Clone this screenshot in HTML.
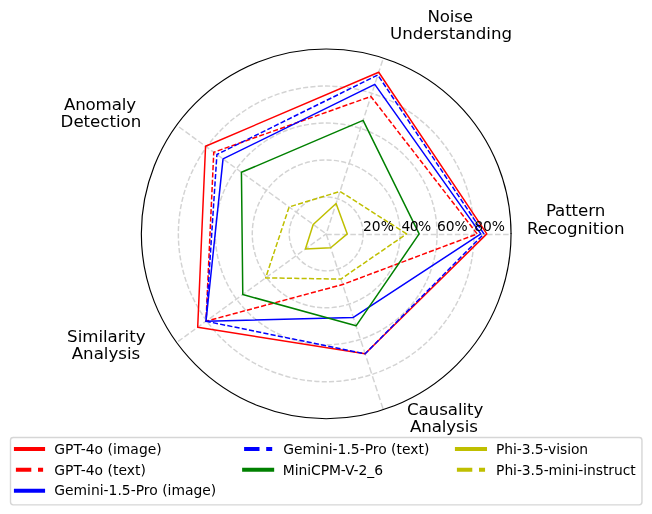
<!DOCTYPE html>
<html><head><meta charset="utf-8"><title>Radar chart</title>
<style>html,body{margin:0;padding:0;background:#fff}svg{display:block}</style></head>
<body>
<svg width="652" height="514" viewBox="0 0 652 514">
<rect width="652" height="514" fill="#fff"/>
<g fill="none" stroke="#d3d3d3" stroke-width="1.45">
<line x1="326.2" y1="234.5" x2="511.00" y2="234.50" stroke-dasharray="5.55 2.49" stroke-dashoffset="0.00"/>
<line x1="326.2" y1="233.9" x2="383.31" y2="58.14" stroke-dasharray="5.99 2.69" stroke-dashoffset="5.58"/>
<line x1="326.2" y1="233.9" x2="176.69" y2="125.28" stroke-dasharray="5.47 2.46" stroke-dashoffset="6.03"/>
<line x1="326.2" y1="233.9" x2="176.69" y2="342.52" stroke-dasharray="5.38 2.41" stroke-dashoffset="1.59"/>
<line x1="326.2" y1="233.9" x2="383.31" y2="409.66" stroke-dasharray="6.45 2.90" stroke-dashoffset="0.00"/>
<circle cx="0" cy="0" r="36.96" transform="translate(326.2 233.9) scale(1 -1)" stroke-dasharray="5.14 2.22"/>
<circle cx="0" cy="0" r="73.92" transform="translate(326.2 233.9) scale(1 -1)" stroke-dasharray="5.14 2.22"/>
<circle cx="0" cy="0" r="110.88" transform="translate(326.2 233.9) scale(1 -1)" stroke-dasharray="5.14 2.22"/>
<circle cx="0" cy="0" r="147.84" transform="translate(326.2 233.9) scale(1 -1)" stroke-dasharray="5.14 2.22"/>
</g>
<polygon points="486.79,233.90 378.71,72.29 205.55,146.24 197.70,327.26 365.15,353.77" fill="none" stroke="#ff0000" stroke-width="1.5" stroke-linejoin="round"/>
<polygon points="477.18,233.90 370.86,96.46 213.77,152.22 206.00,321.23 342.65,284.52" fill="none" stroke="#ff0000" stroke-width="1.5" stroke-linejoin="round" stroke-dasharray="5.14 2.22"/>
<polygon points="480.79,233.90 374.80,84.33 223.04,158.95 206.00,321.23 353.33,317.38" fill="none" stroke="#0000ff" stroke-width="1.5" stroke-linejoin="round"/>
<polygon points="483.93,233.90 377.82,75.02 216.91,154.50 206.00,321.23 365.15,353.77" fill="none" stroke="#0000ff" stroke-width="1.5" stroke-linejoin="round" stroke-dasharray="5.14 2.22"/>
<polygon points="419.15,233.90 363.09,120.36 241.43,172.31 242.78,294.51 356.07,325.82" fill="none" stroke="#008000" stroke-width="1.5" stroke-linejoin="round"/>
<polygon points="347.27,233.90 336.08,203.49 313.19,224.45 305.42,249.00 330.71,247.78" fill="none" stroke="#bfbf00" stroke-width="1.5" stroke-linejoin="round"/>
<polygon points="406.59,233.90 340.02,191.37 289.12,206.96 265.65,277.89 340.88,279.07" fill="none" stroke="#bfbf00" stroke-width="1.5" stroke-linejoin="round" stroke-dasharray="5.14 2.22"/>
<circle cx="326.2" cy="233.85" r="184.85" fill="none" stroke="#000" stroke-width="1.15"/>
<rect x="510.35" y="233.1" width="1.3" height="0.9" fill="#000" fill-opacity="0.7"/>
<g font-family="'DejaVu Sans', 'Liberation Sans', sans-serif" fill="#000">
<g font-size="13.89px">
<text id="t20" x="363.04" y="231.0" textLength="30.84" lengthAdjust="spacing">20%</text>
<text id="t40" x="401.38" y="231.0" textLength="29.74" lengthAdjust="spacing">40%</text>
<text id="t60" x="436.96" y="231.0" textLength="30.72" lengthAdjust="spacing">60%</text>
<text id="t80" x="474.30" y="231.0" textLength="30.72" lengthAdjust="spacing">80%</text>
</g>
<g font-size="16.67px">
<text id="pat" x="545.90" y="215.7" textLength="59.29" lengthAdjust="spacing">Pattern</text>
<text id="rec" x="526.88" y="233.6" textLength="97.59" lengthAdjust="spacing">Recognition</text>
<text id="noi" x="427.61" y="21.8" textLength="45.34" lengthAdjust="spacing">Noise</text>
<text id="und" x="390.00" y="38.7" textLength="121.97" lengthAdjust="spacing">Understanding</text>
<text id="ano" x="63.91" y="110" textLength="72.16" lengthAdjust="spacing">Anomaly</text>
<text id="det" x="60.62" y="127" textLength="80.60" lengthAdjust="spacing">Detection</text>
<text id="sim" x="67.12" y="342.1" textLength="78.37" lengthAdjust="spacing">Similarity</text>
<text id="an1" x="71.73" y="359.0" textLength="68.52" lengthAdjust="spacing">Analysis</text>
<text id="cau" x="407.07" y="415" textLength="76.27" lengthAdjust="spacing">Causality</text>
<text id="an2" x="410.06" y="432" textLength="67.79" lengthAdjust="spacing">Analysis</text>
</g>
<rect x="10.5" y="437.5" width="631.45" height="67.4" rx="2.8" ry="2.8" fill="#fff" fill-opacity="0.8" stroke="#ccc" stroke-opacity="0.8" stroke-width="1.39"/>
<g font-size="13.89px">
<line x1="15.9" y1="448.9" x2="43.1" y2="448.9" stroke="#ff0000" stroke-width="3.95" stroke-linecap="square"/>
<text id="L0" x="54.25" y="453.9" textLength="107.48" lengthAdjust="spacing">GPT-4o (image)</text>
<line x1="15.9" y1="469.75" x2="43.1" y2="469.75" stroke="#ff0000" stroke-width="3.95" stroke-dasharray="15.4 6.7"/>
<text id="L1" x="54.25" y="474.8" textLength="91.62" lengthAdjust="spacing">GPT-4o (text)</text>
<line x1="15.9" y1="490.65" x2="43.1" y2="490.65" stroke="#0000ff" stroke-width="3.95" stroke-linecap="square"/>
<text id="L2" x="54.25" y="495.3" textLength="161.98" lengthAdjust="spacing">Gemini-1.5-Pro (image)</text>
<line x1="244.1" y1="448.9" x2="272.2" y2="448.9" stroke="#0000ff" stroke-width="3.95" stroke-dasharray="15.4 6.7"/>
<text id="L3" x="283.29" y="453.9" textLength="146.03" lengthAdjust="spacing">Gemini-1.5-Pro (text)</text>
<line x1="244.1" y1="469.75" x2="272.2" y2="469.75" stroke="#008000" stroke-width="3.95" stroke-linecap="square"/>
<text id="L4" x="282.78" y="474.8" textLength="100.23" lengthAdjust="spacing">MiniCPM-V-2_6</text>
<line x1="456.9" y1="448.9" x2="485.05" y2="448.9" stroke="#bfbf00" stroke-width="3.95" stroke-linecap="square"/>
<text id="L5" x="496.09" y="453.9" textLength="92.03" lengthAdjust="spacing">Phi-3.5-vision</text>
<line x1="456.9" y1="469.75" x2="485.05" y2="469.75" stroke="#bfbf00" stroke-width="3.95" stroke-dasharray="15.4 6.7"/>
<text id="L6" x="496.09" y="474.8" textLength="139.64" lengthAdjust="spacing">Phi-3.5-mini-instruct</text>
</g></g></svg>
</body></html>
